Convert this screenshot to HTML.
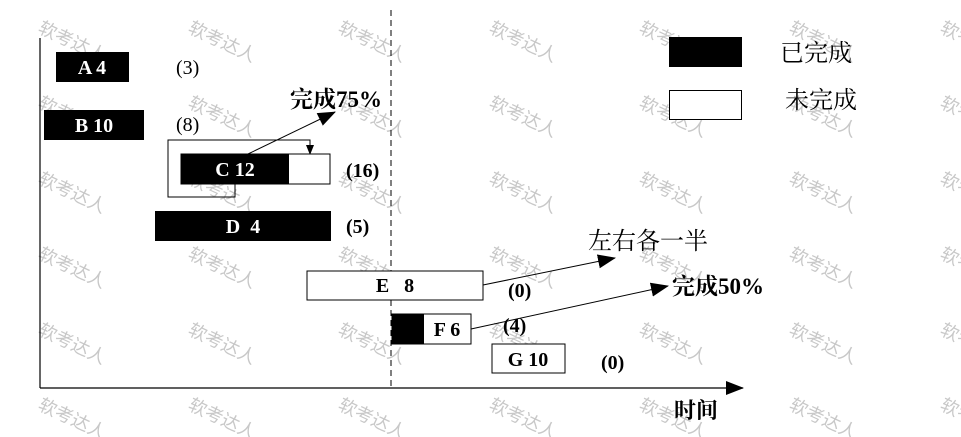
<!DOCTYPE html>
<html><head><meta charset="utf-8"><style>
html,body{margin:0;padding:0;background:#fff;}
svg{display:block;}
.w{font-family:"Liberation Sans","Noto Sans CJK SC",sans-serif;font-size:18px;fill:#c8c8c8;}
.b{font-family:"Liberation Serif","Noto Serif CJK SC",serif;font-weight:bold;font-size:20px;}
.n{font-family:"Liberation Serif","Noto Serif CJK SC",serif;font-size:20px;}
</style></head><body>
<svg width="961" height="437" viewBox="0 0 961 437" xmlns="http://www.w3.org/2000/svg">
<defs><marker id="ah" markerWidth="10" markerHeight="8" refX="9" refY="4" orient="auto" markerUnits="userSpaceOnUse"><path d="M0,0 L10,4 L0,8 z" fill="#000"/></marker>
<marker id="ab" markerWidth="18" markerHeight="14" refX="17" refY="7" orient="auto" markerUnits="userSpaceOnUse"><path d="M0,0 L18,7 L0,14 z" fill="#000"/></marker></defs>
<g class="w">
<g id="r">
<text transform="translate(37,32) rotate(25)">软考达人</text>
<text transform="translate(187,32) rotate(25)">软考达人</text>
<text transform="translate(337,32) rotate(25)">软考达人</text>
<text transform="translate(488,32) rotate(25)">软考达人</text>
<text transform="translate(638,32) rotate(25)">软考达人</text>
<text transform="translate(788,32) rotate(25)">软考达人</text>
<text transform="translate(939,32) rotate(25)">软考达人</text>
</g>
<use href="#r" y="75"/><use href="#r" y="151"/><use href="#r" y="226"/><use href="#r" y="302"/><use href="#r" y="377"/>
</g>
<line x1="40" y1="38" x2="40" y2="388" stroke="#000" stroke-width="1.2"/>
<line x1="40" y1="388" x2="743" y2="388" stroke="#000" stroke-width="1.2" marker-end="url(#ab)"/>
<line x1="391" y1="10" x2="391" y2="388" stroke="#000" stroke-width="1" stroke-dasharray="6,4"/>
<text x="674" y="418" class="n" style="font-weight:bold;font-size:22px">时间</text>
<rect x="56" y="52" width="73" height="30" fill="#000"/>
<text x="92" y="74" class="b" fill="#fff" text-anchor="middle">A 4</text>
<text x="176" y="74" class="n">(3)</text>
<rect x="44" y="110" width="100" height="30" fill="#000"/>
<text x="94" y="132" class="b" fill="#fff" text-anchor="middle">B 10</text>
<text x="176" y="131" class="n">(8)</text>
<polyline points="235,184 235,197 168,197 168,140 310,140 310,154" fill="none" stroke="#000" stroke-width="1" marker-end="url(#ah)"/>
<rect x="181" y="154" width="149" height="30" fill="#fff" stroke="#000" stroke-width="1"/>
<rect x="181" y="154" width="108" height="30" fill="#000"/>
<text x="235" y="176" class="b" fill="#fff" text-anchor="middle">C 12</text>
<text x="346" y="177" class="b">(16)</text>
<line x1="248" y1="154" x2="335" y2="112" stroke="#000" stroke-width="1" marker-end="url(#ab)"/>
<text x="290" y="107" class="n" style="font-weight:bold;font-size:23px">完成75%</text>
<rect x="155" y="211" width="176" height="30" fill="#000"/>
<text x="243" y="233" class="b" fill="#fff" text-anchor="middle" xml:space="preserve">D  4</text>
<text x="346" y="233" class="b">(5)</text>
<rect x="307" y="271" width="176" height="29" fill="#fff" stroke="#000" stroke-width="1"/>
<text x="395" y="292" class="b" text-anchor="middle" xml:space="preserve">E   8</text>
<text x="508" y="297" class="b">(0)</text>
<line x1="483" y1="285" x2="615" y2="258" stroke="#000" stroke-width="1" marker-end="url(#ab)"/>
<text x="588" y="249" class="n" style="font-size:24px">左右各一半</text>
<rect x="392" y="314" width="79" height="30" fill="#fff" stroke="#000" stroke-width="1"/>
<rect x="392" y="314" width="32" height="30" fill="#000"/>
<text x="447" y="336" class="b" text-anchor="middle">F 6</text>
<text x="503" y="332" class="b">(4)</text>
<line x1="471" y1="329" x2="668" y2="286" stroke="#000" stroke-width="1" marker-end="url(#ab)"/>
<text x="672" y="294" class="n" style="font-weight:bold;font-size:23px">完成50%</text>
<rect x="492" y="344" width="73" height="29" fill="#fff" stroke="#000" stroke-width="1"/>
<text x="528" y="366" class="b" text-anchor="middle">G 10</text>
<text x="601" y="369" class="b">(0)</text>
<rect x="669" y="37" width="73" height="30" fill="#000"/>
<rect x="669.5" y="90.5" width="72" height="29" fill="#fff" stroke="#000" stroke-width="1"/>
<text x="780" y="61" class="n" style="font-size:24px">已完成</text>
<text x="785" y="108" class="n" style="font-size:24px">未完成</text>
</svg>
</body></html>
